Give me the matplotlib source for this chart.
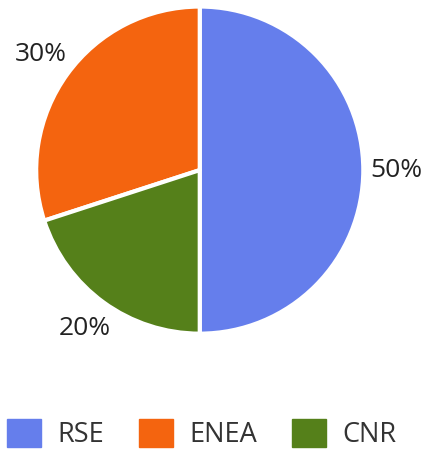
import matplotlib.pyplot as plt
from matplotlib.patches import Patch

labels = ['RSE', 'ENEA', 'CNR']
shares = [50, 30, 20]
colors = ['#657eec', '#f4640f', '#55801a']

plt.rcParams['font.family'] = ['Open Sans', 'DejaVu Sans']

fig = plt.figure(figsize=(4.25, 4.53), dpi=100)
ax = fig.add_axes([0.089, 0.267, 0.762, 0.715])

wedges, texts, autotexts = ax.pie(
    shares, colors=colors, startangle=-90, counterclock=True,
    autopct='%d%%', pctdistance=1.2,
    wedgeprops=dict(edgecolor='white', linewidth=3, joinstyle='round'),
    textprops=dict(fontsize=19, color='#222222', fontweight='medium'))
ax.set_xlim(-0.99, 0.99)
ax.set_ylim(-0.99, 0.99)
ax.set_aspect('equal')

handles = [Patch(facecolor=c, edgecolor=c) for c in colors]
fig.legend(handles, labels, loc='center', bbox_to_anchor=(0.475, 0.042),
           ncol=3, frameon=False, fontsize=19.5, handlelength=1.25,
           handleheight=1.25, handletextpad=0.6, columnspacing=1.3,
           labelcolor='#333333')

fig.savefig('out.png', dpi=100)
